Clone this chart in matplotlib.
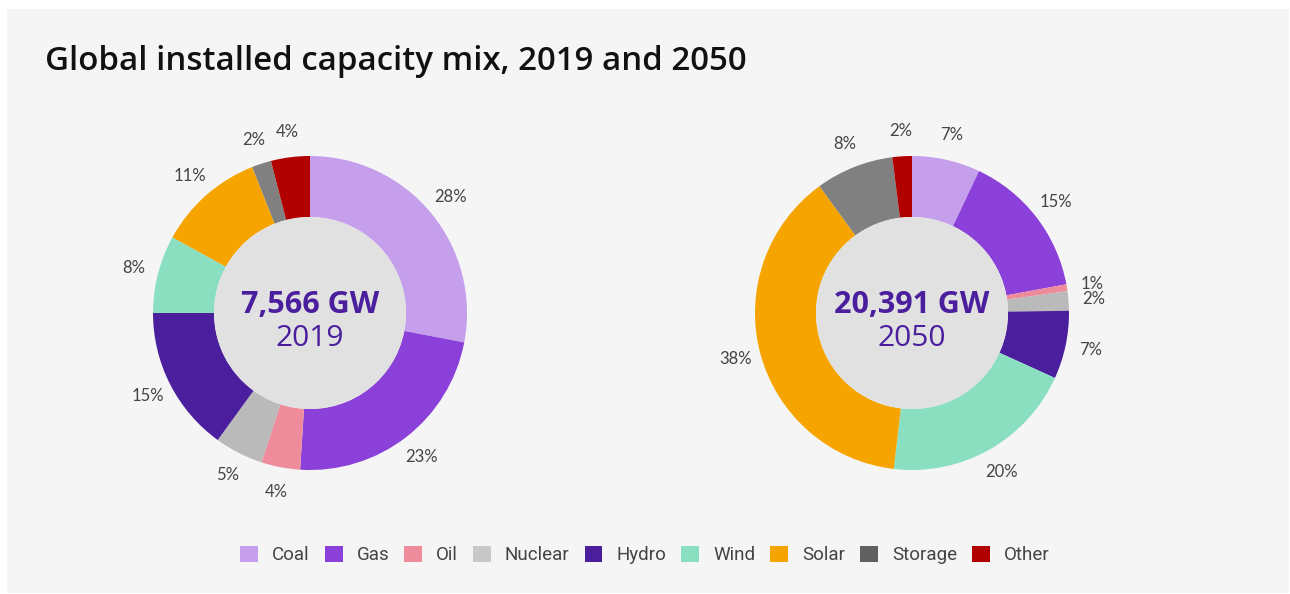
import matplotlib

matplotlib.use("Agg")
import matplotlib.pyplot as plt
import numpy as np
from matplotlib.patches import Circle, Rectangle, Patch

# data
categories = ["Coal", "Gas", "Oil", "Nuclear", "Hydro", "Wind", "Solar", "Storage", "Other"]
share_2019 = [28, 23, 4, 5, 15, 8, 11, 2, 4]
share_2050 = [7, 15, 0.7, 2, 7, 20, 38, 8, 2]
labels_2019 = ["28%", "23%", "4%", "5%", "15%", "8%", "11%", "2%", "4%"]
labels_2050 = ["7%", "15%", "1%", "2%", "7%", "20%", "38%", "8%", "2%"]
totals = ["7,566 GW", "20,391 GW"]
years = ["2019", "2050"]

pie_colors = ["#c59fec", "#8a40d9", "#ef8c9b", "#bababa", "#4b1e9d",
              "#8adfc1", "#f6a500", "#808080", "#b00000"]
legend_colors = ["#c59fec", "#8a40d9", "#ef8c9b", "#c8c8c8", "#4b1e9d",
                 "#8adfc1", "#f6a500", "#606060", "#b00000"]

W, H = 1290, 594
BG = "#f5f5f5"
TEXT = "#444444"
CENTER_TXT = "#4b1e9d"

fig = plt.figure(figsize=(W / 100, H / 100), dpi=100)
fig.patch.set_facecolor("white")
fig.add_artist(Rectangle((7 / W, 1 / H), 1282 / W, 584 / H, transform=fig.transFigure,
                         facecolor=BG, edgecolor="none", zorder=-10))

fig.text(45 / W, 1 - 62 / H, "Global installed capacity mix, 2019 and 2050",
         fontsize=23.8, fontfamily="Open Sans", fontweight="semibold", color="#111111",
         ha="left", va="center")

R_OUT = 157.0
R_IN = 96.0
BOX = 420


def donut(cx, cy, values, labels, total, year):
    ax = fig.add_axes([(cx - BOX / 2) / W, (H - cy - BOX / 2) / H, BOX / W, BOX / H])
    wedges, _ = ax.pie(values, colors=pie_colors, startangle=90, counterclock=False,
                       radius=1.0, wedgeprops=dict(width=1 - R_IN / R_OUT, linewidth=0))
    lim = BOX / 2 / R_OUT
    ax.set_xlim(-lim, lim)
    ax.set_ylim(-lim, lim)
    ax.set_aspect("equal")
    ax.axis("off")
    ax.add_patch(Circle((0, 0), R_IN / R_OUT, facecolor="#e1e1e1", edgecolor="none", zorder=3))
    for w, lab in zip(wedges, labels):
        ang = np.deg2rad((w.theta1 + w.theta2) / 2)
        r = 1.16
        ax.text(r * np.cos(ang), r * np.sin(ang), lab, ha="center", va="center",
                fontsize=12, color=TEXT, fontfamily="Lato")
    ax.text(0, 0.05, total, ha="center", va="center", fontsize=22, fontweight="bold",
            color=CENTER_TXT, fontfamily="Open Sans", zorder=4)
    ax.text(0, -0.165, year, ha="center", va="center", fontsize=21.5,
            color=CENTER_TXT, fontfamily="Open Sans", zorder=4)


donut(310, 313, share_2019, labels_2019, totals[0], years[0])
donut(912, 313, share_2050, labels_2050, totals[1], years[1])

handles = [Patch(facecolor=c, edgecolor="none") for c in legend_colors]
fig.legend(handles, categories, loc="center", bbox_to_anchor=(0.5, 1 - 555 / H), ncol=9,
           frameon=False, handlelength=0.95, handleheight=0.95, handletextpad=0.75,
           columnspacing=0.8, prop=dict(family="Roboto", size=13.5),
           labelcolor=TEXT)

fig.savefig("out.png", dpi=100, facecolor=fig.get_facecolor())
